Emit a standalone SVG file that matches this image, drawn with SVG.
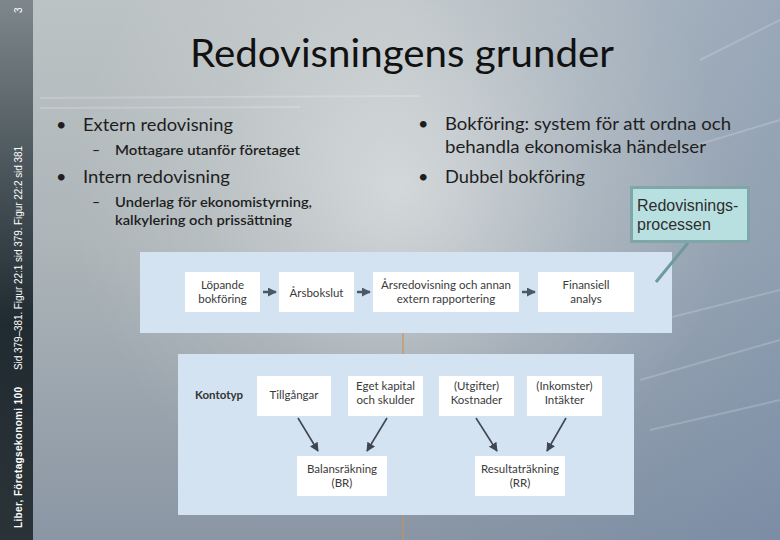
<svg xmlns="http://www.w3.org/2000/svg" width="780" height="540" viewBox="0 0 780 540">
<defs>
<linearGradient id="bgV" x1="0" y1="0" x2="0" y2="1">
<stop offset="0" stop-color="#bcc3c5"/>
<stop offset="0.45" stop-color="#adb5b8"/>
<stop offset="1" stop-color="#8a96a4"/>
</linearGradient>
<radialGradient id="glow" cx="400" cy="190" r="330" gradientUnits="userSpaceOnUse">
<stop offset="0" stop-color="#ffffff" stop-opacity="0.45"/>
<stop offset="0.6" stop-color="#ffffff" stop-opacity="0.12"/>
<stop offset="1" stop-color="#ffffff" stop-opacity="0"/>
</radialGradient>
<linearGradient id="blueR" x1="0" y1="0" x2="1" y2="0">
<stop offset="0.5" stop-color="#6680a8" stop-opacity="0"/>
<stop offset="1" stop-color="#6680a8" stop-opacity="0.4"/>
</linearGradient>
<linearGradient id="strip" x1="0" y1="0" x2="0" y2="1">
<stop offset="0" stop-color="#7e878b"/>
<stop offset="0.3" stop-color="#4d585e"/>
<stop offset="0.6" stop-color="#202b31"/>
<stop offset="1" stop-color="#2a3338"/>
</linearGradient>
<marker id="ah" viewBox="0 0 10 10" refX="9" refY="5" markerWidth="9" markerHeight="9" markerUnits="userSpaceOnUse" orient="auto">
<path d="M0,0 L10,5 L0,10 z" fill="#3f4751"/>
</marker>
<marker id="ahs" viewBox="0 0 10 10" refX="9" refY="5" markerWidth="9" markerHeight="9" markerUnits="userSpaceOnUse" orient="auto">
<path d="M0,0 L10,5 L0,10 z" fill="#4b5866"/>
</marker>
</defs>
<style>
.panel{fill:#d4e3f2}
.box{fill:#ffffff}
.bt{font-family:Lato,"Noto Sans",sans-serif;font-size:11.5px;fill:#3a3a3a;text-anchor:middle}
.kt{font-family:Lato,"Noto Sans",sans-serif;font-size:11.5px;font-weight:bold;fill:#333}
.main{font-family:Lato,"Open Sans",sans-serif;font-size:18px;fill:#1e1e1e}
.sub{font-family:Lato,"Open Sans",sans-serif;font-size:14px;fill:#1e1e1e;font-weight:600}
.flow{stroke:#4b5866;stroke-width:2.5;fill:none;marker-end:url(#ahs)}
.dn{stroke:#3f4751;stroke-width:1.6;fill:none;marker-end:url(#ah)}
.side{font-family:"Liberation Sans",Arial,sans-serif;font-size:10px;fill:#ffffff}
</style>

<!-- background -->
<rect x="0" y="0" width="780" height="540" fill="url(#bgV)"/>
<rect x="0" y="0" width="780" height="540" fill="url(#blueR)"/>
<rect x="0" y="0" width="780" height="540" fill="url(#glow)"/>
<g stroke="#ffffff" stroke-opacity="0.18" stroke-width="2" fill="none">
<line x1="40" y1="98" x2="420" y2="96"/>
<line x1="40" y1="108" x2="300" y2="107"/>
<line x1="620" y1="330" x2="780" y2="290"/>
<line x1="640" y1="380" x2="780" y2="340"/>
<line x1="650" y1="430" x2="780" y2="400"/>
<line x1="700" y1="60" x2="780" y2="20"/>
<line x1="680" y1="150" x2="780" y2="120"/>
</g>
<line x1="403" y1="333" x2="403" y2="354" stroke="#c9915e" stroke-opacity="0.6" stroke-width="2"/>
<line x1="403" y1="515" x2="403" y2="540" stroke="#c9915e" stroke-opacity="0.5" stroke-width="2"/>

<!-- left strip -->
<rect x="0" y="0" width="33" height="540" fill="url(#strip)"/>
<text class="side" transform="translate(22,528) rotate(-90)" font-weight="bold" font-size="10.5" textLength="141" lengthAdjust="spacing">Liber, Företagsekonomi 100</text>
<text class="side" transform="translate(22,370) rotate(-90)" textLength="224" lengthAdjust="spacing">Sid 379–381. Figur 22:1 sid 379. Figur 22:2 sid 381</text>
<text class="side" transform="translate(22,13) rotate(-90)">3</text>

<!-- title -->
<text x="190" y="67" font-family="Lato,'Open Sans',sans-serif" font-size="38" fill="#111" textLength="424" lengthAdjust="spacingAndGlyphs">Redovisningens grunder</text>

<!-- left bullets -->
<g id="bullets-left">
<text class="main" x="56" y="131">•</text>
<text class="main" x="83" y="131" textLength="150" lengthAdjust="spacingAndGlyphs">Extern redovisning</text>
<text class="sub" x="92" y="155">–</text>
<text class="sub" x="115" y="155" textLength="185" lengthAdjust="spacingAndGlyphs">Mottagare utanför företaget</text>
<text class="main" x="56" y="183">•</text>
<text class="main" x="83" y="183" textLength="147" lengthAdjust="spacingAndGlyphs">Intern redovisning</text>
<text class="sub" x="92" y="207">–</text>
<text class="sub" x="115" y="207" textLength="197" lengthAdjust="spacingAndGlyphs">Underlag för ekonomistyrning,</text>
<text class="sub" x="115" y="225" textLength="177" lengthAdjust="spacingAndGlyphs">kalkylering och prissättning</text>
</g>

<!-- right bullets -->
<g id="bullets-right">
<text class="main" x="418" y="130">•</text>
<text class="main" x="445" y="130" textLength="286" lengthAdjust="spacingAndGlyphs">Bokföring: system för att ordna och</text>
<text class="main" x="445" y="153" textLength="261" lengthAdjust="spacingAndGlyphs">behandla ekonomiska händelser</text>
<text class="main" x="418" y="183">•</text>
<text class="main" x="445" y="183" textLength="140" lengthAdjust="spacingAndGlyphs">Dubbel bokföring</text>
</g>

<!-- top panel -->
<g id="panel-process">
<rect class="panel" x="140" y="252" width="532" height="81"/>
</g>
<g id="n-lopande">
<rect class="box" x="185" y="272" width="75" height="40"/>
<text class="bt" x="222.5" y="289">Löpande</text>
<text class="bt" x="222.5" y="303">bokföring</text>
</g>
<g id="n-arsbokslut">
<rect class="box" x="279" y="272" width="75" height="40"/>
<text class="bt" x="316.5" y="297">Årsbokslut</text>
</g>
<g id="n-arsredovisning">
<rect class="box" x="373" y="272" width="146" height="40"/>
<text class="bt" x="446" y="289">Årsredovisning och annan</text>
<text class="bt" x="446" y="303">extern rapportering</text>
</g>
<g id="n-finansiell">
<rect class="box" x="538" y="272" width="96" height="40"/>
<text class="bt" x="586" y="289">Finansiell</text>
<text class="bt" x="586" y="303">analys</text>
</g>

<!-- callout -->
<g id="callout">
<line x1="688" y1="243" x2="656" y2="282" stroke="#6f9a9c" stroke-width="3"/>
<rect x="631.5" y="187.5" width="117" height="54" fill="#b9e0e0" stroke="#7fa6a8" stroke-width="3"/>
<text x="637" y="211" font-family="'Liberation Sans',Arial,sans-serif" font-size="16" fill="#2e2e2e">Redovisnings-</text>
<text x="637" y="230" font-family="'Liberation Sans',Arial,sans-serif" font-size="16" fill="#2e2e2e">processen</text>
</g>

<!-- bottom panel -->
<g id="panel-kontotyp">
<rect class="panel" x="178" y="354" width="456" height="161"/>
<text class="kt" x="195" y="399">Kontotyp</text>
</g>
<g id="n-tillgangar">
<rect class="box" x="257" y="376" width="74" height="40"/>
<text class="bt" x="294" y="399">Tillgångar</text>
</g>
<g id="n-eget">
<rect class="box" x="348" y="376" width="75" height="40"/>
<text class="bt" x="385.5" y="390">Eget kapital</text>
<text class="bt" x="385.5" y="404">och skulder</text>
</g>
<g id="n-kostnader">
<rect class="box" x="439" y="376" width="75" height="40"/>
<text class="bt" x="476.5" y="390">(Utgifter)</text>
<text class="bt" x="476.5" y="404">Kostnader</text>
</g>
<g id="n-intakter">
<rect class="box" x="527" y="376" width="75" height="40"/>
<text class="bt" x="564.5" y="390">(Inkomster)</text>
<text class="bt" x="564.5" y="404">Intäkter</text>
</g>
<g id="n-br">
<rect class="box" x="297" y="456" width="90" height="40"/>
<text class="bt" x="342" y="473">Balansräkning</text>
<text class="bt" x="342" y="487">(BR)</text>
</g>
<g id="n-rr">
<rect class="box" x="475" y="456" width="90" height="40"/>
<text class="bt" x="520" y="473">Resultaträkning</text>
<text class="bt" x="520" y="487">(RR)</text>
</g>

<!-- connectors -->
<g id="connectors">
<line class="flow" x1="263" y1="292" x2="276" y2="292"/>
<line class="flow" x1="357" y1="292" x2="370" y2="292"/>
<line class="flow" x1="522" y1="292" x2="535" y2="292"/>
<line class="dn" x1="298" y1="418" x2="318" y2="451"/>
<line class="dn" x1="387" y1="418" x2="367" y2="451"/>
<line class="dn" x1="476" y1="418" x2="497" y2="451"/>
<line class="dn" x1="566" y1="418" x2="547" y2="451"/>
</g>
</svg>
